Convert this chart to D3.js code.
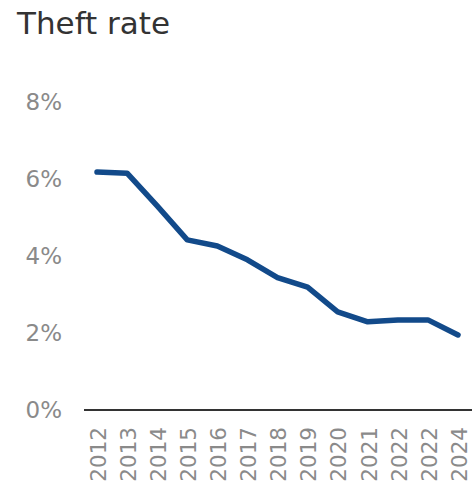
<!DOCTYPE html>
<html>
<head>
<meta charset="utf-8">
<script src="https://cdn.jsdelivr.net/npm/d3@7"></script>
<style>
  html, body { margin: 0; padding: 0; background: #fff; }
  svg { display: block; font-family: "DejaVu Sans", sans-serif; }
</style>
</head>
<body>
<svg id="chart" width="472" height="485"></svg>
<script>
// Theft rate by year (percent)
const years = ["2012", "2013", "2014", "2015", "2016", "2017", "2018", "2019", "2020", "2021", "2022", "2022", "2024"];
const theftRate = [6.18, 6.15, 5.3, 4.42, 4.26, 3.9, 3.44, 3.19, 2.55, 2.29, 2.34, 2.34, 1.95];
const yTicks = [0, 2, 4, 6, 8];

const svg = d3.select("#chart");
const W = 472, H = 485;

svg.append("text")
  .attr("x", 17).attr("y", 34)
  .attr("fill", "#333")
  .attr("font-size", 31)
  .text("Theft rate");

const x = d3.scalePoint()
  .domain(d3.range(years.length))
  .range([97, 458]);

const y = d3.scaleLinear()
  .domain([0, 8])
  .range([410, 102]);

// y tick labels
svg.append("g")
  .selectAll("text")
  .data(yTicks)
  .join("text")
  .attr("x", 62)
  .attr("y", d => y(d))
  .attr("dy", "0.36em")
  .attr("text-anchor", "end")
  .attr("fill", "#8a8a8a")
  .attr("font-size", 23)
  .text(d => d + "%");

// baseline
svg.append("line")
  .attr("x1", 84).attr("x2", W)
  .attr("y1", y(0)).attr("y2", y(0))
  .attr("stroke", "#333")
  .attr("stroke-width", 2);

// x tick labels, rotated
svg.append("g")
  .selectAll("text")
  .data(years)
  .join("text")
  .attr("transform", (d, i) => `translate(${x(i) + 1},427) rotate(-90)`)
  .attr("dy", "0.36em")
  .attr("text-anchor", "end")
  .attr("fill", "#8a8a8a")
  .attr("font-size", 21.5)
  .text(d => d);

// line
const line = d3.line()
  .x((d, i) => x(i))
  .y(d => y(d));

svg.append("path")
  .datum(theftRate)
  .attr("d", line)
  .attr("fill", "none")
  .attr("stroke", "#124a8a")
  .attr("stroke-width", 5.5)
  .attr("stroke-linejoin", "round")
  .attr("stroke-linecap", "round");
</script>
</body>
</html>
